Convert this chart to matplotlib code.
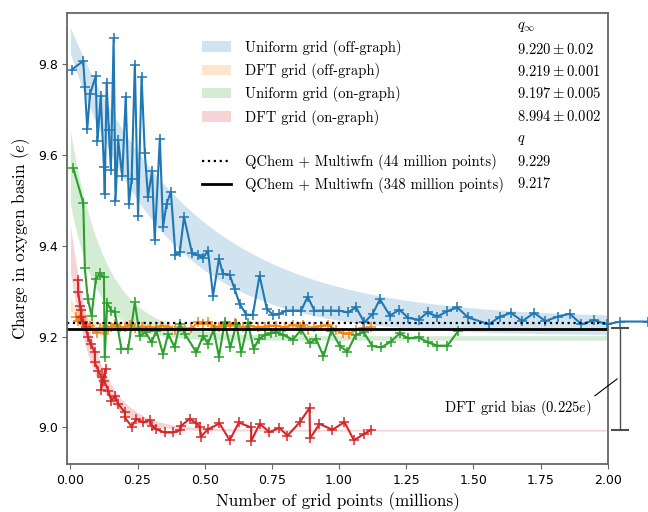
import numpy as np
import matplotlib
matplotlib.use("Agg")
import matplotlib.pyplot as plt
from matplotlib.patches import Patch
from matplotlib.lines import Line2D

plt.rcParams['mathtext.fontset'] = 'cm'
SERIF = 'cmr10'

# --- uniform grid (off-graph)
uo_x = [0.005, 0.048, 0.054, 0.063, 0.073, 0.094, 0.101, 0.113, 0.125, 0.128, 0.135, 0.143, 0.151,
        0.161, 0.168, 0.178, 0.193, 0.206, 0.218, 0.228, 0.240, 0.252, 0.265, 0.277, 0.289, 0.304,
        0.314, 0.333, 0.345, 0.358, 0.374, 0.391, 0.407, 0.423, 0.453, 0.475, 0.494, 0.512, 0.531,
        0.553, 0.568, 0.593, 0.611, 0.630, 0.655, 0.679, 0.704, 0.731, 0.753, 0.778, 0.803, 0.828,
        0.859, 0.883, 0.908, 0.939, 0.970, 1.001, 1.032, 1.063, 1.094, 1.125, 1.152, 1.189, 1.224,
        1.258, 1.296, 1.329, 1.366, 1.403, 1.440, 1.480, 1.558, 1.597, 1.639, 1.682, 1.726, 1.768,
        1.814, 1.858, 1.902, 1.948, 1.997, 2.047, 2.15]
uo_q = [9.787, 9.806, 9.749, 9.657, 9.733, 9.772, 9.630, 9.728, 9.573, 9.514, 9.758, 9.654, 9.567,
        9.856, 9.499, 9.632, 9.552, 9.727, 9.491, 9.547, 9.798, 9.466, 9.771, 9.604, 9.507, 9.564,
        9.413, 9.635, 9.441, 9.492, 9.518, 9.380, 9.385, 9.463, 9.383, 9.379, 9.373, 9.389, 9.290,
        9.371, 9.338, 9.336, 9.305, 9.272, 9.248, 9.248, 9.334, 9.261, 9.248, 9.250, 9.257, 9.257,
        9.257, 9.288, 9.257, 9.257, 9.257, 9.257, 9.253, 9.264, 9.231, 9.250, 9.282, 9.246, 9.259,
        9.241, 9.237, 9.253, 9.244, 9.256, 9.264, 9.242, 9.227, 9.243, 9.252, 9.234, 9.252, 9.234,
        9.244, 9.250, 9.227, 9.236, 9.227, 9.233, 9.233]

# --- DFT grid (off-graph)
do_x = [0.021, 0.029, 0.042, 0.054, 0.073, 0.085, 0.098, 0.110, 0.122, 0.141, 0.153, 0.166, 0.184,
        0.203, 0.221, 0.240, 0.265, 0.296, 0.320, 0.339, 0.364, 0.388, 0.407, 0.426, 0.450, 0.475,
        0.494, 0.512, 0.537, 0.555, 0.574, 0.593, 0.611, 0.642, 0.667, 0.698, 0.723, 0.741, 0.766,
        0.797, 0.828, 0.853, 0.865, 0.883, 0.908, 0.931, 0.958, 0.989, 1.013, 1.038, 1.063, 1.088,
        1.119]
do_q = [9.244, 9.235, 9.246, 9.228, 9.224, 9.217, 9.207, 9.219, 9.215, 9.215, 9.220, 9.228, 9.222,
        9.220, 9.226, 9.219, 9.222, 9.222, 9.217, 9.224, 9.222, 9.215, 9.222, 9.215, 9.219, 9.231,
        9.228, 9.231, 9.222, 9.222, 9.228, 9.224, 9.229, 9.220, 9.224, 9.220, 9.222, 9.224, 9.224,
        9.220, 9.226, 9.222, 9.226, 9.215, 9.220, 9.223, 9.225, 9.215, 9.207, 9.206, 9.215, 9.219,
        9.220]

# --- uniform grid (on-graph)
ug_x = [0.011, 0.048, 0.054, 0.065, 0.079, 0.095, 0.110, 0.125, 0.128, 0.137, 0.153, 0.166, 0.190,
        0.215, 0.240, 0.258, 0.281, 0.302, 0.320, 0.345, 0.364, 0.388, 0.407, 0.426, 0.469, 0.494,
        0.512, 0.533, 0.553, 0.574, 0.595, 0.618, 0.636, 0.661, 0.682, 0.702, 0.726, 0.747, 0.767,
        0.791, 0.828, 0.859, 0.890, 0.914, 0.942, 0.971, 1.003, 1.031, 1.062, 1.092, 1.124, 1.157,
        1.193, 1.225, 1.258, 1.297, 1.331, 1.366, 1.403, 1.443]
ug_q = [9.570, 9.494, 9.350, 9.283, 9.246, 9.327, 9.339, 9.330, 9.154, 9.273, 9.257, 9.253, 9.173,
        9.173, 9.275, 9.202, 9.209, 9.187, 9.213, 9.162, 9.206, 9.176, 9.228, 9.206, 9.165, 9.202,
        9.184, 9.215, 9.156, 9.231, 9.176, 9.228, 9.165, 9.229, 9.173, 9.195, 9.204, 9.207, 9.209,
        9.204, 9.193, 9.215, 9.185, 9.195, 9.157, 9.213, 9.179, 9.167, 9.204, 9.209, 9.179, 9.176,
        9.189, 9.207, 9.196, 9.198, 9.187, 9.180, 9.180, 9.212]

# --- DFT grid (on-graph)
dg_x = [0.029, 0.029, 0.036, 0.041, 0.038, 0.048, 0.057, 0.066, 0.076, 0.091, 0.091, 0.104, 0.116,
        0.114, 0.131, 0.126, 0.141, 0.153, 0.166, 0.178, 0.203, 0.203, 0.228, 0.246, 0.271, 0.296,
        0.302, 0.320, 0.351, 0.382, 0.407, 0.413, 0.444, 0.469, 0.481, 0.485, 0.512, 0.555, 0.593,
        0.627, 0.673, 0.673, 0.704, 0.741, 0.778, 0.808, 0.853, 0.890, 0.892, 0.927, 0.975, 1.020,
        1.055, 1.094, 1.120]
dg_q = [9.325, 9.299, 9.268, 9.259, 9.242, 9.233, 9.220, 9.198, 9.184, 9.165, 9.143, 9.125, 9.110,
        9.082, 9.129, 9.103, 9.081, 9.059, 9.070, 9.052, 9.033, 9.022, 9.002, 9.019, 9.011, 9.016,
        9.004, 8.996, 8.989, 8.989, 8.994, 9.004, 9.019, 9.009, 9.002, 8.979, 8.996, 9.009, 8.972,
        9.011, 9.000, 8.970, 9.008, 8.990, 8.999, 8.982, 9.011, 9.043, 8.976, 9.008, 8.995, 9.012,
        8.972, 8.986, 8.995]

# fitted q(N) = q_inf + a*exp(-N/tau): band limits (lower, upper)
fits = {
    'uo': [(9.203, 0.62, 0.34), (9.240, 0.64, 0.45)],
    'do': [(9.218, 0.040, 0.05), (9.220, 0.065, 0.06)],
    'ug': [(9.192, 0.30, 0.10), (9.202, 0.45, 0.13)],
    'dg': [(8.992, 0.35, 0.09), (8.996, 0.45, 0.10)],
}

q_inf_labels = [r'$9.220 \pm 0.02$', r'$9.219 \pm 0.001$', r'$9.197 \pm 0.005$', r'$8.994 \pm 0.002$']
qchem_q = [9.229, 9.217]
dft_off, dft_on = 9.219, 8.994

colors = ['tab:blue', 'tab:orange', 'tab:green', 'tab:red']
names = ['Uniform grid (off-graph)', 'DFT grid (off-graph)', 'Uniform grid (on-graph)', 'DFT grid (on-graph)']
keys = ['uo', 'do', 'ug', 'dg']
series = [(uo_x, uo_q), (do_x, do_q), (ug_x, ug_q), (dg_x, dg_q)]

fig = plt.figure(figsize=(6.48, 5.12), dpi=100)
ax = fig.add_axes([0.104, 0.094, 0.834, 0.881])

xx = np.linspace(0, 2.0, 300)
for key, c in zip(keys, colors):
    (l0, la, lt), (u0, ua, ut) = fits[key]
    ax.fill_between(xx, l0 + la * np.exp(-xx / lt), u0 + ua * np.exp(-xx / ut),
                    color=c, alpha=0.2, lw=0)

for (x, q), c in zip(series, colors):
    ln, = ax.plot(x, q, color=c, lw=1.5, marker='+', ms=6.5, mew=1.1)
    if c == 'tab:blue':
        ln.set_clip_on(False)

ax.axhline(qchem_q[0], color='k', ls=':', lw=1.6)
ax.axhline(qchem_q[1], color='k', ls='-', lw=2)

# DFT grid bias bar
eb = ax.errorbar([2.047], [(dft_off + dft_on) / 2], yerr=[(dft_off - dft_on) / 2],
                 color='0.3', lw=1, capsize=6.5, capthick=1.5)
for a in eb.lines[1] + eb.lines[2]:
    a.set_clip_on(False)
ax.annotate('DFT grid bias (0.225$e$)', xy=(2.035, 9.107), xytext=(1.666, 9.043),
            ha='center', va='center', fontfamily=SERIF, fontsize=10.5,
            arrowprops=dict(arrowstyle='-', color='k', lw=0.8, relpos=(1.0, 1.0),
                            shrinkA=0, shrinkB=0), annotation_clip=False)

ax.set_xlim(-0.011, 2.0)
ax.set_ylim(8.92, 9.912)
ax.set_xticks(np.arange(0, 2.01, 0.25))
ax.set_yticks([9.0, 9.2, 9.4, 9.6, 9.8])
ax.tick_params(labelsize=9, color='0.4')
for s in ax.spines.values():
    s.set_color('0.4')
    s.set_linewidth(1.3)
ax.set_xlabel('Number of grid points (millions)', fontfamily=SERIF, fontsize=12.3)
ax.set_ylabel('Charge in oxygen basin ($e$)', fontfamily=SERIF, fontsize=12.3)

blank = Patch(facecolor='none', edgecolor='none')
handles = [blank] + [Patch(facecolor=c, alpha=0.2) for c in colors] + [blank,
           Line2D([], [], color='k', ls=':', lw=1.6), Line2D([], [], color='k', lw=2)]
labels = [' '] + names + [' ', 'QChem + Multiwfn (44 million points)',
                          'QChem + Multiwfn (348 million points)']
handles += [blank] * 8
labels += [r'$q_\infty$'] + q_inf_labels + [r'$q$'] + [r'$%.3f$' % v for v in qchem_q]
ax.legend(handles, labels, ncol=2, loc='upper left', bbox_to_anchor=(0.2375, 1.0),
          frameon=False, borderaxespad=0, columnspacing=-2.0, handletextpad=0.95,
          labelspacing=0.5, prop={'family': SERIF, 'size': 10.5})

fig.savefig('out.png', dpi=100)
